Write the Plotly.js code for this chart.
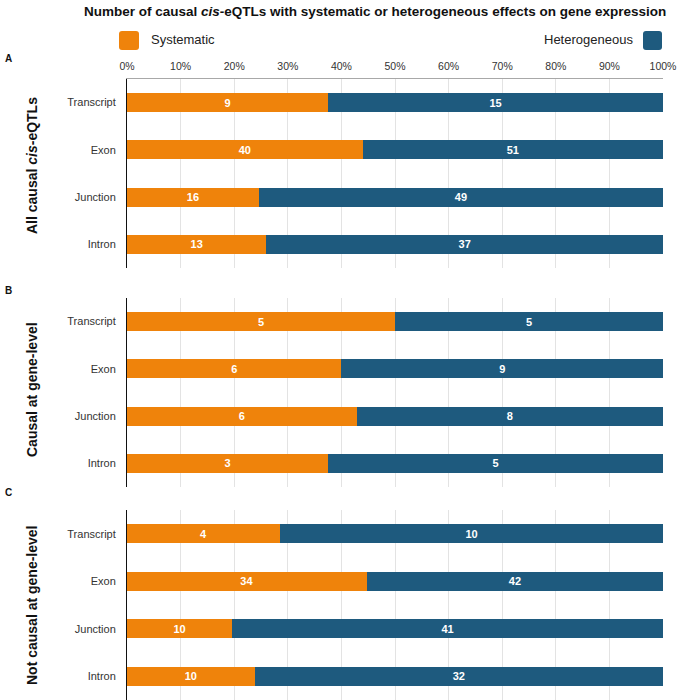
<!DOCTYPE html>
<html>
<head>
<meta charset="utf-8">
<script src="https://cdn.plot.ly/plotly-3.0.1.min.js"></script>
<style>html,body{margin:0;padding:0;background:#fff;}#chart{width:678px;height:700px;}</style>
</head>
<body>
<div id="chart"></div>
<script>
const categories = ['Transcript', 'Exon', 'Junction', 'Intron'];
const systematicAll = [9, 40, 16, 13];
const heterogeneousAll = [15, 51, 49, 37];
const systematicCausal = [5, 6, 6, 3];
const heterogeneousCausal = [5, 9, 8, 5];
const systematicNotCausal = [4, 34, 10, 10];
const heterogeneousNotCausal = [10, 42, 41, 32];
const percentTicks = [0, 10, 20, 30, 40, 50, 60, 70, 80, 90, 100];
const gridTicks = [10, 20, 30, 40, 50, 60, 70, 80, 90];

const ORANGE = '#EF830B';
const BLUE = '#1E5A7E';
const FONT = 'Liberation Sans, Arial, Helvetica, sans-serif';

function bar(vals, color, xa, ya, name) {
  return {
    type: 'bar', orientation: 'h', name: name,
    y: categories, x: vals, text: vals.map(String),
    texttemplate: '%{text}', textposition: 'inside', insidetextanchor: 'middle',
    textfont: {family: FONT, size: 11, color: '#ffffff', weight: 'bold'},
    marker: {color: color, line: {width: 0}},
    width: 0.4, xaxis: xa, yaxis: ya, showlegend: false, hoverinfo: 'skip'
  };
}

const data = [
  bar(systematicAll, ORANGE, 'x', 'y', 'Systematic'),
  bar(heterogeneousAll, BLUE, 'x', 'y', 'Heterogeneous'),
  bar(systematicCausal, ORANGE, 'x2', 'y2', 'Systematic'),
  bar(heterogeneousCausal, BLUE, 'x2', 'y2', 'Heterogeneous'),
  bar(systematicNotCausal, ORANGE, 'x3', 'y3', 'Systematic'),
  bar(heterogeneousNotCausal, BLUE, 'x3', 'y3', 'Heterogeneous'),
  {type: 'scatter', x: [], y: [], xaxis: 'x4', yaxis: 'y', showlegend: false, hoverinfo: 'skip'}
];

function xax(anchor) {
  return {
    anchor: anchor, range: [0, 100], fixedrange: true,
    tickvals: gridTicks, showticklabels: false,
    showgrid: true, gridcolor: '#e3e3e3', gridwidth: 1,
    zeroline: false, showline: false, ticks: ''
  };
}
function yax(domain) {
  return {
    domain: domain, autorange: 'reversed', fixedrange: true,
    showline: true, linecolor: '#111', linewidth: 1,
    ticks: 'outside', ticklen: 8, tickcolor: 'rgba(0,0,0,0)',
    tickfont: {family: FONT, size: 11, color: '#333'},
    showgrid: false, zeroline: false
  };
}

// pixel helpers for paper coordinates (plot area 127..663 x 79..700)
const px = v => (v - 127) / 536;
const py = v => (700 - v) / 621;

function roundRect(x0, x1, y0, y1, r) {
  const X = px, Y = py;
  return 'M' + X(x0 + r) + ',' + Y(y0) +
    ' L' + X(x1 - r) + ',' + Y(y0) +
    ' Q' + X(x1) + ',' + Y(y0) + ' ' + X(x1) + ',' + Y(y0 + r) +
    ' L' + X(x1) + ',' + Y(y1 - r) +
    ' Q' + X(x1) + ',' + Y(y1) + ' ' + X(x1 - r) + ',' + Y(y1) +
    ' L' + X(x0 + r) + ',' + Y(y1) +
    ' Q' + X(x0) + ',' + Y(y1) + ' ' + X(x0) + ',' + Y(y1 - r) +
    ' L' + X(x0) + ',' + Y(y0 + r) +
    ' Q' + X(x0) + ',' + Y(y0) + ' ' + X(x0 + r) + ',' + Y(y0) + ' Z';
}

const layout = {
  width: 678, height: 700,
  margin: {l: 127, r: 15, t: 79, b: 0},
  paper_bgcolor: '#fff', plot_bgcolor: '#fff',
  barmode: 'stack', barnorm: 'percent',
  font: {family: FONT, color: '#222'},
  title: {
    text: 'Number of causal <i>cis</i>-eQTLs with systematic or heterogeneous effects on gene expression',
    font: {family: FONT, size: 13.5, color: '#111', weight: 'bold'},
    xref: 'container', yref: 'container',
    x: 84 / 678, xanchor: 'left', y: 1 - 11 / 700, yanchor: 'middle'
  },
  xaxis: xax('y'),
  xaxis2: xax('y2'),
  xaxis3: xax('y3'),
  xaxis4: {
    overlaying: 'x', anchor: 'y', side: 'top', range: [0, 100], fixedrange: true,
    tickvals: percentTicks, ticktext: percentTicks.map(v => v + '%'),
    tickfont: {family: FONT, size: 10.5, color: '#333'},
    showgrid: false, zeroline: false, showline: true, linecolor: '#a8a8a8', linewidth: 1,
    ticks: 'outside', ticklen: 4, tickcolor: 'rgba(0,0,0,0)'
  },
  yaxis: yax([py(268), 1]),
  yaxis2: yax([py(487), py(298)]),
  yaxis3: yax([0, py(510)]),
  shapes: [
    {type: 'path', xref: 'paper', yref: 'paper', path: roundRect(119, 139, 31, 50, 3),
     fillcolor: ORANGE, line: {width: 0}},
    {type: 'path', xref: 'paper', yref: 'paper', path: roundRect(643, 662, 31, 50, 3),
     fillcolor: BLUE, line: {width: 0}}
  ],
  annotations: [
    {text: 'Systematic', xref: 'paper', yref: 'paper', x: px(149), y: py(40), xanchor: 'left', yanchor: 'middle',
     showarrow: false, font: {family: FONT, size: 13, color: '#222'}},
    {text: 'Heterogeneous', xref: 'paper', yref: 'paper', x: px(635), y: py(40), xanchor: 'right', yanchor: 'middle',
     showarrow: false, font: {family: FONT, size: 13, color: '#222'}},
    {text: '<b>A</b>', xref: 'paper', yref: 'paper', x: px(3), y: py(58), xanchor: 'left', yanchor: 'middle',
     showarrow: false, font: {family: FONT, size: 10, color: '#111'}},
    {text: '<b>B</b>', xref: 'paper', yref: 'paper', x: px(3), y: py(290), xanchor: 'left', yanchor: 'middle',
     showarrow: false, font: {family: FONT, size: 10, color: '#111'}},
    {text: '<b>C</b>', xref: 'paper', yref: 'paper', x: px(3), y: py(492), xanchor: 'left', yanchor: 'middle',
     showarrow: false, font: {family: FONT, size: 10, color: '#111'}},
    {text: '<b>All causal <i>cis</i>-eQTLs</b>', xref: 'paper', yref: 'paper', x: px(32), y: py(166),
     xanchor: 'center', yanchor: 'middle', textangle: -90, showarrow: false,
     font: {family: FONT, size: 14, color: '#111'}},
    {text: '<b>Causal at gene-level</b>', xref: 'paper', yref: 'paper', x: px(32), y: py(390),
     xanchor: 'center', yanchor: 'middle', textangle: -90, showarrow: false,
     font: {family: FONT, size: 14, color: '#111'}},
    {text: '<b>Not causal at gene-level</b>', xref: 'paper', yref: 'paper', x: px(32), y: py(605),
     xanchor: 'center', yanchor: 'middle', textangle: -90, showarrow: false,
     font: {family: FONT, size: 14, color: '#111'}}
  ]
};

Plotly.newPlot('chart', data, layout, {staticPlot: true, displayModeBar: false});
</script>
</body>
</html>
